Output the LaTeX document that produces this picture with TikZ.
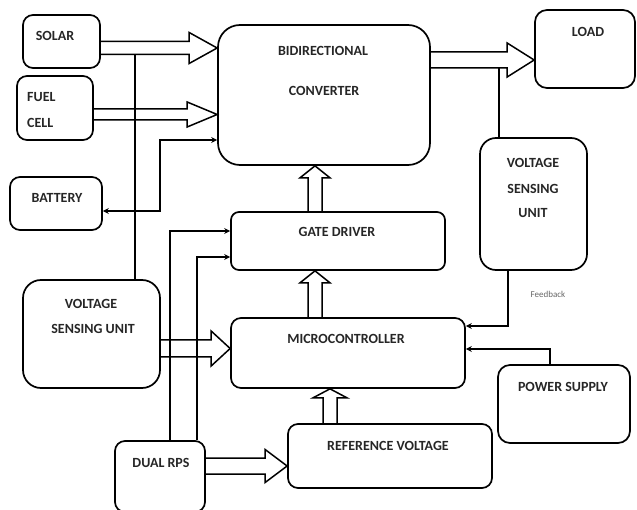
\documentclass[tikz,border=0pt]{standalone}
\usepackage{fontspec}
\setmainfont{Carlito}
\usetikzlibrary{calc,arrows.meta}
\newcommand\hright[6]{% start node, end node, yc, half shaft, half head, head length
 \draw[hol] (#1.east|-0,#3-#4) -- ($(#2.west|-0,#3-#4)+(-#6,0)$) -- ($(#2.west|-0,#3-#5)+(-#6,0)$) -- (#2.west|-0,#3) -- ($(#2.west|-0,#3+#5)+(-#6,0)$) -- ($(#2.west|-0,#3+#4)+(-#6,0)$) -- (#1.east|-0,#3+#4);}
\newcommand\hup[6]{% start node (below), end node (above), xc, half shaft, half head, head length
 \draw[hol] (#1.north-|#3-#4,0) -- ($(#2.south-|#3-#4,0)+(0,#6)$) -- ($(#2.south-|#3-#5,0)+(0,#6)$) -- (#2.south-|#3,0) -- ($(#2.south-|#3+#5,0)+(0,#6)$) -- ($(#2.south-|#3+#4,0)+(0,#6)$) -- (#1.north-|#3+#4,0);}
\begin{document}
\begin{tikzpicture}[x=1pt,y=-1pt,
  box/.style={draw,line width=1.7pt,rounded corners=#1,inner sep=0pt},
  box/.default=10pt,
  lbl/.style={font=\fontsize{14}{16}\selectfont\bfseries,inner sep=0pt,text=black!85},
  hol/.style={line width=1.5pt,line join=miter},
  wire/.style={line width=1.5pt},
  tip/.style={-{Stealth[length=6pt,width=6pt]}},
  tips/.style={{Stealth[length=6pt,width=6pt]}-{Stealth[length=6pt,width=6pt]}}]
\useasboundingbox (0,0) rectangle (637,510);
% boxes
\node[box=10pt, minimum width=77pt, minimum height=53pt] (solar) at (61.5,41.5) {};
\node[box=10pt, minimum width=76pt, minimum height=64pt] (fuel) at (55,108) {};
\node[box=10pt, minimum width=92pt, minimum height=53pt] (battery) at (56,203.5) {};
\node[box=22pt, minimum width=212pt, minimum height=140pt] (conv) at (324,95) {};
\node[box=12pt, minimum width=100pt, minimum height=78pt] (load) at (585,49) {};
\node[box=16pt, minimum width=107pt, minimum height=132pt] (vsr) at (533.5,204) {};
\node[box=8pt, minimum width=214pt, minimum height=58pt] (gate) at (338,241) {};
\node[box=10pt, minimum width=234pt, minimum height=70pt] (micro) at (348,353) {};
\node[box=12pt, minimum width=132pt, minimum height=78pt] (power) at (564,404) {};
\node[box=10pt, minimum width=204pt, minimum height=64pt] (ref) at (390,456) {};
\node[box=10pt, minimum width=90pt, minimum height=71pt] (dual) at (160,476.5) {};
\node[box=18pt, minimum width=137pt, minimum height=108pt] (vsl) at (91.5,334) {};
% labels
\node[lbl] (tsolar) at (55,36) {SOLAR};
\node[lbl,anchor=west] (tfuel) at (27,97) {FUEL};
\node[lbl,anchor=west] (tcell) at (27,123) {CELL};
\node[lbl] (tbat) at (57,198) {BATTERY};
\node[lbl] (tbid) at (323,51) {BIDIRECTIONAL};
\node[lbl] (tconv) at (324,91) {CONVERTER};
\node[lbl] (tload) at (588,32) {LOAD};
\node[lbl] (tvr1) at (533,163) {VOLTAGE};
\node[lbl] (tvr2) at (533,189) {SENSING};
\node[lbl] (tvr3) at (533,213) {UNIT};
\node[lbl] (tgate) at (337,232) {GATE DRIVER};
\node[lbl] (tmicro) at (346,339) {MICROCONTROLLER};
\node[lbl] (tpower) at (563,387) {POWER SUPPLY};
\node[lbl] (tref) at (388,446) {REFERENCE VOLTAGE};
\node[lbl] (tdual) at (161,463) {DUAL RPS};
\node[lbl] (tvl1) at (91,304) {VOLTAGE};
\node[lbl] (tvl2) at (93,329) {SENSING UNIT};
\node[font=\fontsize{9}{10}\selectfont,text=black!60,inner sep=0pt] (fb) at (548,294) {Feedback};
% hollow arrows
\hright{solar}{conv}{48}{6.5}{15.5}{28}
\hright{fuel}{conv}{114.5}{5.5}{12.5}{30}
\hright{conv}{load}{60}{8}{17}{27}
\hright{vsl}{micro}{348.5}{8.5}{17.5}{19}
\hright{dual}{ref}{466}{8}{16.5}{22}
\hup{gate}{conv}{315}{7}{15}{12}
\hup{micro}{gate}{315}{7}{15}{12}
\hup{ref}{micro}{330}{7}{17}{9}
% thin connectors
\coordinate (sj) at (135,54.5);
\draw[wire] (sj) -- (vsl.north-|sj);
\coordinate (bj1) at (160,211);
\coordinate (bj2) at (160,140);
\draw[wire,tips] (battery.east|-bj1) -- (bj1) -- (bj2) -- (conv.west|-bj2);
\coordinate (d1) at (170,231);
\coordinate (d2) at (197,257);
\draw[wire,tip] (dual.north-|d1) -- (d1) -- (gate.west|-d1);
\draw[wire,tip] (dual.north-|d2) -- (d2) -- (gate.west|-d2);
\coordinate (rj) at (499,68);
\draw[wire] (rj) -- (vsr.north-|rj);
\coordinate (fj) at (508,326);
\draw[wire,tip] (vsr.south-|fj) -- (fj) -- (micro.east|-fj);
\coordinate (pj) at (550,349);
\draw[wire,tip] (power.north-|pj) -- (pj) -- (micro.east|-pj);
\end{tikzpicture}
\end{document}
